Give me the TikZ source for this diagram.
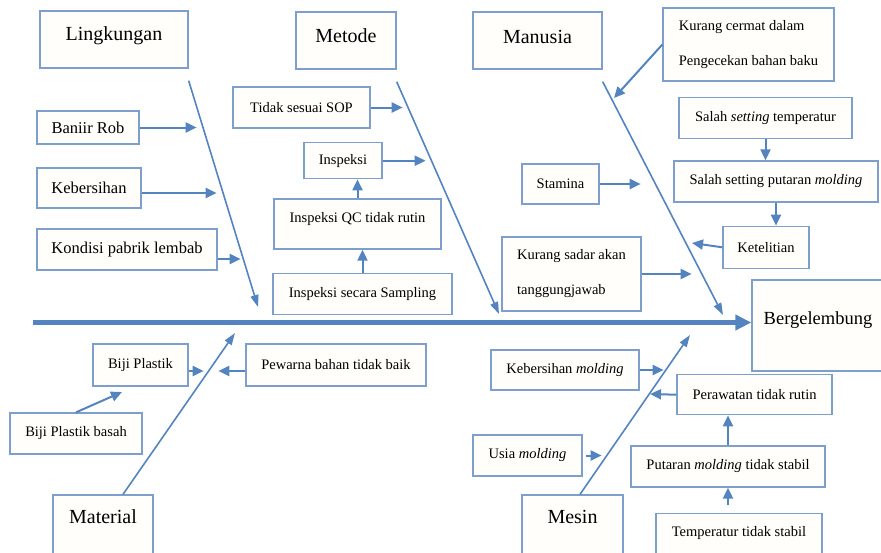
\documentclass[tikz,border=0pt]{standalone}
\usepackage{fontspec}
\setmainfont{Liberation Serif}
\usetikzlibrary{positioning}
\usetikzlibrary{arrows.meta}

\definecolor{boxline}{RGB}{126,158,204}
\definecolor{boxfill}{RGB}{255,254,251}
\definecolor{fishblue}{RGB}{84,132,192}

\tikzset{
  cat/.style={draw=boxline, line width=1.3pt, fill=boxfill, inner sep=0pt, text=black, font=\fontsize{20pt}{24pt}\selectfont},
  cause/.style={draw=boxline, line width=1.3pt, fill=boxfill, inner sep=0pt, text=black, font=\fontsize{14.5pt}{17pt}\selectfont},
  envcause/.style={cause, font=\fontsize{16.5pt}{20pt}\selectfont},
  twoline/.style={cause, align=left, font=\fontsize{14.5pt}{35pt}\selectfont},
  bone/.style={draw=fishblue, line width=1.6pt, -{Triangle[length=12pt,width=8pt]}},
  causearrow/.style={draw=fishblue, line width=2pt, -{Triangle[length=11pt,width=10pt]}},
  spine/.style={draw=fishblue, line width=5pt, -{Triangle[length=16pt,width=15pt]}},
}

\begin{document}
\begin{tikzpicture}[x=1pt, y=-1pt]
    \useasboundingbox (0,0) rectangle (881,552);

    % effect (head) and spine
    \node[cat, minimum width=132pt, text height=44pt, text depth=47pt, font=\fontsize{18.5pt}{22pt}\selectfont] (berg) at (818,325.5) {Bergelembung};
    \coordinate (spine) at (33,322.5);
    \draw[spine] (spine) -- (spine -| berg.west);

    % Lingkungan
    \node[cat, minimum width=148pt, text height=29pt, text depth=28pt] (ling) at (114,39.5) {Lingkungan};
    \coordinate[below=12pt of ling.south east] (ling-root);
    \coordinate (ling-tip) at (258,307);
    \draw[bone] (ling-root) -- (ling-tip);
    \node[envcause, minimum width=102pt, minimum height=33pt] (rob) at (88,127.5) {Baniir Rob};
    \coordinate[right=57pt of rob] (rob-end);
    \draw[causearrow] (rob) -- (rob-end);
    \node[envcause, minimum width=104pt, minimum height=40pt] (bersih) at (89,188) {Kebersihan};
    \coordinate[right=75pt of bersih, yshift=-5pt] (bersih-end);
    \draw[causearrow] (bersih.east |- bersih-end) -- (bersih-end);
    \node[envcause, minimum width=180pt, minimum height=41pt] (lembab) at (127,249.5) {Kondisi pabrik lembab};
    \coordinate[right=23pt of lembab, yshift=-9.5pt] (lembab-end);
    \draw[causearrow] (lembab.east |- lembab-end) -- (lembab-end);

    % Metode
    \node[cat, minimum width=100pt, text height=30pt, text depth=27pt] (metode) at (346,40.5) {Metode};
    \coordinate[below=12pt of metode.south east] (metode-root);
    \coordinate (metode-tip) at (499,314);
    \draw[bone] (metode-root) -- (metode-tip);
    \node[cause, minimum width=137pt, minimum height=41pt] (sop) at (301.5,107.5) {Tidak sesuai SOP};
    \coordinate[right=32pt of sop] (sop-end);
    \draw[causearrow] (sop) -- (sop-end);
    \node[cause, minimum width=167pt, text height=23pt, text depth=27pt] (qc) at (357.5,224) {Inspeksi QC tidak rutin};
    \node[cause, above=19pt of qc, xshift=-14.5pt, minimum width=78pt, minimum height=36pt] (insp) {Inspeksi};
    \node[cause, below=23pt of qc, xshift=5pt, minimum width=179pt, minimum height=41pt] (sampling) {Inspeksi secara Sampling};
    \coordinate[right=43pt of insp] (insp-end);
    \draw[causearrow] (insp) -- (insp-end);
    \draw[causearrow] (sampling) -- (sampling |- qc.south);
    \draw[causearrow] (qc.north) -- (qc.north |- insp.south);

    % Manusia
    \node[cat, minimum width=129pt, text height=31pt, text depth=26pt] (manusia) at (537.5,40.5) {Manusia};
    \coordinate[below=12pt of manusia.south east] (manusia-root);
    \coordinate (manusia-tip) at (723,315);
    \draw[bone] (manusia-root) -- (manusia-tip);
    \node[twoline, minimum width=171pt, minimum height=73pt] (cermat) at (748.5,44.5) {Kurang cermat dalam\\Pengecekan bahan baku};
    \coordinate (cermat-end) at (614,98);
    \draw[causearrow] (cermat.west) -- (cermat-end);
    \node[cause, minimum width=204pt, minimum height=41pt] (putar) at (776,181.5) {Salah setting putaran \textit{molding}};
    \node[cause, above=21pt of putar, xshift=-10.5pt, minimum width=173pt, minimum height=41pt] (settemp) {Salah \textit{setting} temperatur};
    \node[cause, below=23pt of putar, xshift=-10pt, minimum width=86pt, minimum height=42pt] (teliti) {Ketelitian};
    \draw[causearrow] (settemp) -- (settemp |- putar.north);
    \draw[causearrow] (putar.south) -- (putar.south |- teliti.north);
    \coordinate (teliti-end) at (692,243);
    \draw[causearrow] (teliti.west) -- (teliti-end);
    \node[cause, minimum width=77pt, minimum height=40pt] (stamina) at (560.5,184) {Stamina};
    \coordinate[right=41pt of stamina] (stamina-end);
    \draw[causearrow] (stamina) -- (stamina-end);
    \node[twoline, minimum width=139pt, minimum height=74pt] (sadar) at (571.5,274) {Kurang sadar akan\\tanggungjawab};
    \coordinate[right=50pt of sadar] (sadar-end);
    \draw[causearrow] (sadar) -- (sadar-end);

    % Material
    \node[cat, minimum width=100pt, text height=28pt, text depth=33pt] (material) at (103,525.5) {Material};
    \coordinate[right=20pt of material.north] (material-root);
    \coordinate (material-tip) at (235,333);
    \draw[bone] (material-root) -- (material-tip);
    \node[cause, minimum width=95pt, minimum height=42pt] (biji) at (140.5,365) {Biji Plastik};
    \coordinate[right=15pt of biji, yshift=-6pt] (biji-end);
    \draw[causearrow] (biji.east |- biji-end) -- (biji-end);
    \node[cause, minimum width=180pt, minimum height=42pt] (pewarna) at (336,365) {Pewarna bahan tidak baik};
    \coordinate[left=27pt of pewarna, yshift=-6pt] (pewarna-end);
    \draw[causearrow] (pewarna.west |- pewarna-end) -- (pewarna-end);
    \node[cause, minimum width=132pt, minimum height=41pt] (basah) at (76,433.5) {Biji Plastik basah};
    \coordinate (basah-end) at (122,392);
    \draw[causearrow] (basah.north) -- (basah-end);

    % Mesin
    \node[cat, minimum width=101pt, text height=28pt, text depth=33pt] (mesin) at (572.5,525.5) {Mesin};
    \coordinate[right=7.5pt of mesin.north] (mesin-root);
    \coordinate (mesin-tip) at (690,335);
    \draw[bone] (mesin-root) -- (mesin-tip);
    \node[cause, minimum width=148pt, minimum height=40pt] (bersihmold) at (565,370) {Kebersihan \textit{molding}};
    \coordinate[right=24pt of bersihmold] (bersihmold-end);
    \draw[causearrow] (bersihmold) -- (bersihmold-end);
    \node[cause, minimum width=109pt, minimum height=41pt] (usia) at (527.5,455.5) {Usia \textit{molding}};
    \coordinate[right=19pt of usia] (usia-end);
    \draw[causearrow, shorten <=3pt] (usia) -- (usia-end);
    \node[cause, minimum width=194pt, minimum height=41pt] (putaran) at (728,466.5) {Putaran \textit{molding} tidak stabil};
    \node[cause, above=30pt of putaran, xshift=26.5pt, minimum width=155pt, minimum height=40pt] (rawat) {Perawatan tidak rutin};
    \node[cause, below=25pt of putaran, xshift=11pt, minimum width=166pt, text height=23pt, text depth=19pt] (suhu) {Temperatur tidak stabil};
    \coordinate (rawat-end) at (650,394);
    \draw[causearrow] (rawat.west) -- (rawat-end);
    \draw[causearrow] (putaran) -- (putaran |- rawat.south);
    \draw[causearrow, shorten <=8pt] (putaran.south |- suhu.north) -- (putaran.south);

\end{tikzpicture}
\end{document}
